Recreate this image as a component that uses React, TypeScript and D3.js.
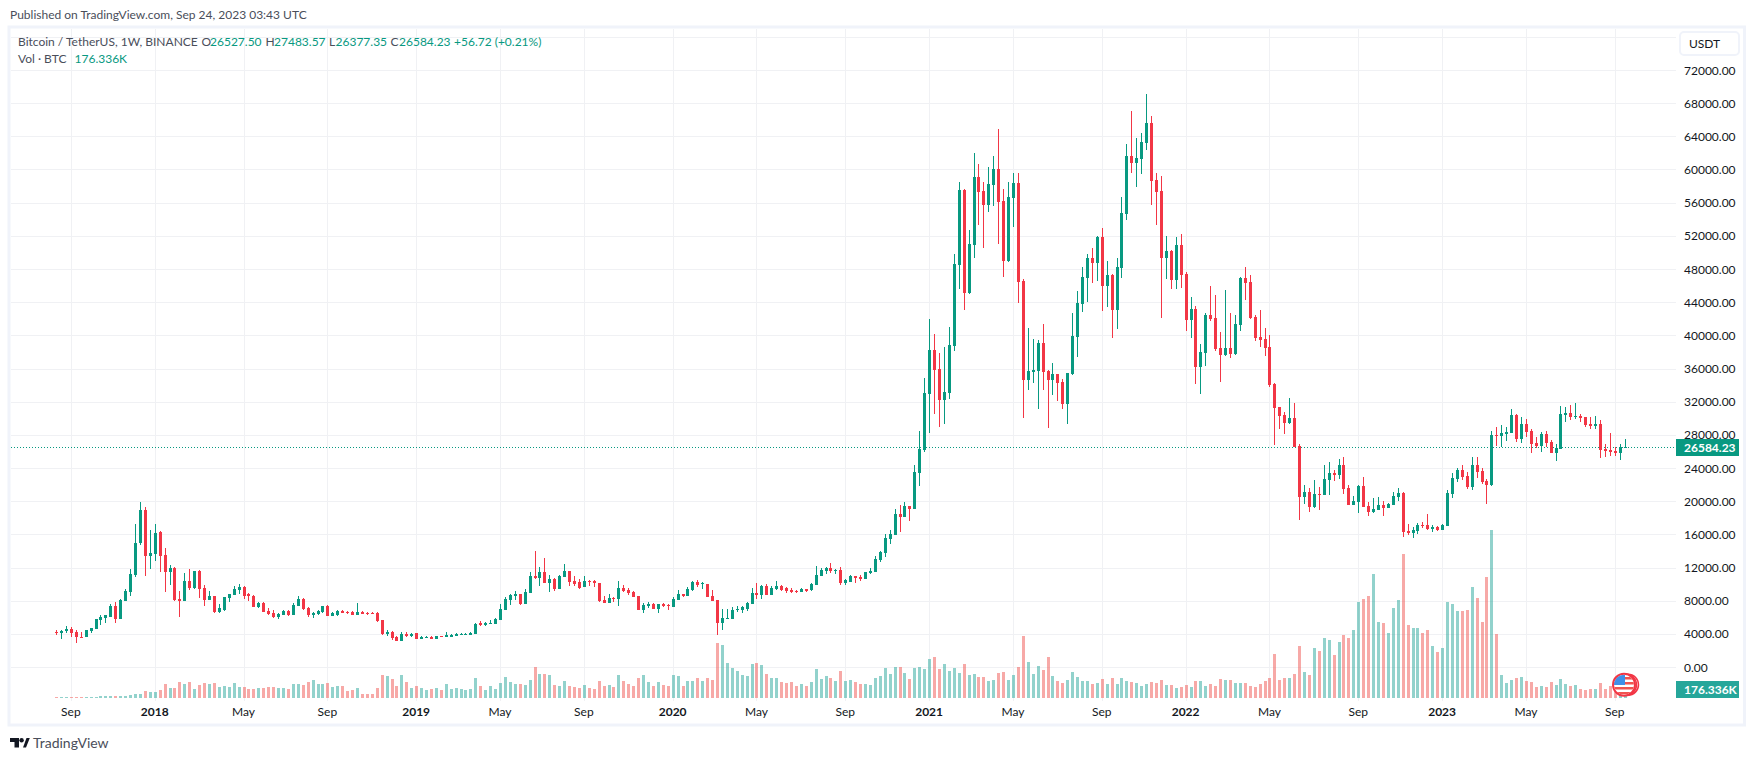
import React from "react";
import * as d3 from "d3";

type Bar = [number, number, number, number];

// weekly [open, high, low, close], Binance BTC/USDT
const ohlc2017: Bar[] = [
  [4261,4485,3850,4086],[4069,4453,3400,4310],[4310,4939,4124,4565],[4565,4820,3660,4150],[4220,4460,2930,3660],
  [3660,4220,3500,3540],[3660,4460,3660,4460],[4300,4740,4140,4700],[4620,5800,4620,5790],[5670,6270,5070,6030],
  [5950,6270,5350,6270],[6070,7560,6070,7360],[7360,7800,5350,5830],[5830,8200,5830,8080],[7960,9370,7920,9130],
  [9090,11780,8600,11180],[11100,17250,10890,14950],[14910,19860,14710,18930],[18930,19260,11010,13390],[13390,16520,11820,13710],
];
const ohlc2018: Bar[] = [
  [13630,17210,12820,16120],[16280,16400,11460,13390],[13470,14350,9050,11500],[11460,12260,9890,11940],[11940,12020,8000,8080],
  [8160,9170,6070,7960],[7960,11300,7960,10370],[10370,11820,9290,9530],[9490,11580,9410,11580],[11580,11700,8320,9410],
  [9530,9890,7400,8080],[8080,9170,8080,8560],[8560,8560,6550,6670],[6670,7600,6550,7080],[6870,8440,6790,8440],
  [8320,8800,7840,8800],[8720,9770,8720,9370],[9290,10010,8800,9650],[9690,9770,8240,8560],[8800,8880,7960,8560],
  [8600,8680,7280,7280],[7200,7840,7120,7760],[7760,7840,6630,6630],[6790,7080,6230,6390],[6470,6870,5870,6030],
  [5990,6470,5830,6390],[6310,6870,6230,6790],[6790,6870,6150,6230],[6310,7720,6310,7480],[7400,8600,7400,8200],
  [8240,8320,6870,7000],[7120,7200,6030,6270],[6310,6630,5950,6550],[6390,6870,6310,6790],[6630,7400,6550,7360],
  [7400,7440,6150,6190],[6190,6630,6150,6550],[6310,6870,6150,6790],[6790,6870,6470,6510],[6670,6750,6390,6510],
  [6670,6750,6230,6310],[6310,7720,6230,6630],[6630,6710,6390,6430],[6550,6630,6310,6390],[6550,6630,6350,6470],
  [6510,6590,5470,5550],[5630,5630,3820,4020],[3940,4420,3780,4220],[4220,4300,3260,3500],[3620,3700,3180,3180],
  [3180,4220,3140,3980],[4020,4220,3660,3700],[3740,4100,3660,3980],
];
const ohlc2019: Bar[] = [
  [4060,4100,3380,3380],[3380,3740,3340,3660],[3540,3740,3500,3660],[3660,3700,3340,3380],[3380,3780,3340,3740],
  [3740,3780,3580,3620],[3660,4220,3620,3820],[3660,3980,3620,3900],[3740,4060,3700,3980],[3860,4100,3820,4020],
  [3860,4060,3820,4020],[3860,4220,3820,4100],[3980,5270,3980,5190],[5270,5510,4940,5070],[5070,5390,4980,5310],
  [5190,5670,5150,5350],[5190,5910,5150,5790],[5670,7600,5670,6990],[6870,8440,6870,8240],[8040,8840,7480,8680],
  [8560,9130,8040,8760],[8800,8800,7480,7560],[7600,9410,7600,9050],[8960,11460,8960,10970],[10930,13990,10570,10690],
  [10770,12020,9770,11460],[11460,13150,10130,10130],[10130,11100,9050,10610],[10610,10730,9170,9370],[9410,11100,9410,11010],
  [10850,12420,10850,11580],[11580,11580,9770,10250],[10370,10970,9770,10050],[10250,10610,9410,9530],[9650,10970,9650,10370],
  [10370,10490,9770,10210],[10370,10450,9650,10090],[10130,10130,7800,7920],[8040,8520,7720,7760],[7760,8800,7720,8320],
  [8360,8440,7840,8240],[8200,10370,7360,9530],[9530,9890,9050,9170],[9330,9530,8680,8880],[9050,9130,8440,8480],
  [8560,8560,6870,6870],[6870,7720,6510,7480],[7360,7840,7120,7600],[7600,7680,6950,7040],[7040,7600,6510,7600],
  [7600,7720,7240,7360],[7480,7600,6870,7320],
];
const ohlc2020: Bar[] = [
  [7240,8440,7240,8200],[8080,9290,8080,8800],[8800,8840,8400,8520],[8560,9650,8560,9410],[9290,10370,9170,10250],
  [10250,10450,9690,9890],[10010,10250,9410,10130],[10010,10010,8440,8440],[8560,9290,7960,7960],[8080,8120,3860,5310],
  [5310,6990,4460,5910],[5830,6990,5790,5910],[5790,7240,5790,6870],[6870,7320,6630,6990],[6910,7360,6510,7200],
  [6990,7840,6750,7720],[7600,9530,7600,8920],[8920,10130,8200,8680],[8680,9890,8200,9770],[9770,10010,8680,8680],
  [8680,9770,8680,9530],[9370,10370,9290,9770],[9770,9890,9170,9290],[9490,9650,8920,9170],[9290,9530,8920,9050],
  [9210,9290,8920,9090],[9090,9570,9050,9450],[9410,9450,9090,9170],[9250,10130,9170,10010],[9890,12180,9890,11100],
  [10970,11940,10970,11700],[11580,12060,11260,11940],[11940,12540,11380,11540],[11660,11820,11220,11740],[11700,12060,9890,10130],
  [10130,10610,9890,10450],[10250,11100,10250,10970],[10970,11020,10130,10690],[10810,11060,10330,10650],[10610,11500,10610,11460],
  [11300,11900,11220,11580],[11460,13420,11460,13030],[12900,14030,12660,13870],[13750,16000,13270,15560],[15440,16470,14830,16000],
  [15920,19050,15920,18450],[18450,19530,16310,18090],[18090,19940,18090,19420],[19420,19420,17630,19050],[19050,24360,19050,23520],
  [23400,28460,21830,26290],[26170,34850,25970,33040],
];
const ohlc2021: Bar[] = [
  [32920,41970,28220,38230],[38230,40160,30510,35820],[35940,37870,28940,32200],[32200,38590,29310,33170],[33040,41000,32320,38830],
  [38710,49810,38110,48600],[48480,58490,45590,57530],[57530,57650,43050,45100],[45100,52700,44980,51010],[50900,61990,49330,59090],
  [59090,60660,53310,57290],[57410,58490,50530,55720],[55720,60300,54870,58250],[58130,61630,55600,60060],[60060,64880,51010,56080],
  [56200,57650,47030,48960],[48960,58490,48840,56680],[56560,59580,53060,58370],[58370,59580,43900,46430],[46550,46790,30030,34610],
  [34610,40880,33410,35700],[35580,39560,34250,35820],[35700,39440,31110,39080],[39080,41370,33410,35580],[35700,35820,28820,34610],
  [34610,36660,32800,35340],[35340,35340,32080,34250],[34370,34730,31110,31720],[31720,35460,29310,35460],[35340,42690,35220,39920],
  [39800,45350,37390,43900],[43780,48240,42810,47030],[46910,49810,44020,49330],[49330,50530,46310,48720],[48720,51980,46550,51860],
  [51860,52940,42930,45950],[45950,48960,43420,47280],[47280,47400,39680,43050],[43050,49330,40760,48240],[48120,56680,46910,54750],
  [54630,63070,53910,61630],[61630,67050,59580,60780],[60780,63800,57890,61390],[61270,64400,59460,63310],[63200,69100,62350,65610],
  [65610,66450,55720,58610],[58730,59580,53310,57290],[57410,59220,42090,49330],[49330,51980,46790,50170],[50170,50290,45590,46670],
  [46670,51860,45590,50890],[50890,52220,45710,47280],
];
const ohlc2022: Bar[] = [
  [47400,47640,40520,41850],[41850,44620,39680,43180],[43180,43540,34130,36180],[36180,38950,32920,37990],[37870,42690,36300,42450],
  [42450,45950,41730,41970],[42090,44860,38110,38350],[38470,40400,34370,37630],[37630,45470,37510,38470],[38470,42690,37270,37750],
  [37750,42450,37630,41370],[41250,47030,40520,46910],[46910,48240,44260,46310],[46430,47280,41970,42090],[42210,42450,39320,39680],
  [39800,43060,38590,39440],[39560,40880,37510,38470],[38590,40040,33770,34010],[34130,34250,26770,31240],[31360,31360,28700,30310],
  [30390,30750,28100,29470],[29430,32440,29310,30030],[30030,31840,26530,26530],[26650,26890,17730,20540],[20500,21950,19660,21110],
  [21110,21590,18690,19300],[19300,22550,19180,20860],[20860,21710,18930,20740],[20740,24360,20740,22670],[22550,24720,20740,23400],
  [23400,23760,22430,23160],[23160,25080,22670,24360],[24360,25330,20860,21470],[21590,21950,19540,19540],[19540,20620,19540,20020],
  [19900,21950,18570,21830],[21830,22910,19300,19300],[19420,19900,18210,18690],[18690,20380,18570,19050],[18930,20500,18930,19540],
  [19540,20020,18210,19180],[19180,19780,19180,19660],[19540,21110,19540,20620],[20500,21590,20020,20980],[20980,21110,15680,16280],
  [16400,17250,15920,16160],[16160,16880,15560,16520],[16400,17370,16080,17130],[17130,17490,16760,17000],[17130,18450,16520,16640],
  [16640,17130,16280,16880],[16880,17000,16400,16520],
];
const ohlc2023: Bar[] = [
  [16520,17250,16520,17130],[17000,21350,17000,20980],[20860,23400,20380,22790],[22670,24000,22310,23760],[23760,24360,22550,22910],
  [23030,23520,21470,21710],[21710,25330,21350,24360],[24360,25330,22790,23520],[23640,24000,22070,22310],[22430,22670,19660,21950],
  [21950,28460,21830,27980],[27980,28940,26650,27900],[27860,29190,26530,28220],[28100,28940,27260,28340],[28220,31110,28220,30390],
  [30390,30510,27140,27500],[27500,30150,27020,29310],[29310,29910,27740,28340],[28460,28700,25810,26890],[27010,27740,26410,26650],
  [26650,28340,25930,28100],[28100,28460,26530,27010],[27140,27380,25810,25810],[25810,26890,24840,26410],[26290,31480,26290,30510],
  [30390,31360,29550,30630],[30630,31600,29790,30150],[30150,31840,29910,30270],[30270,30510,29550,30030],[30150,30150,28940,29190],
  [29310,30150,28700,29060],[29060,30270,28700,29310],[29310,29790,25210,26170],[26290,26890,25330,26050],[26170,28220,25450,25930],
  [26050,26530,25450,25810],[25810,26890,24960,26530],[26527.5,27483.57,26377.35,26584.23],
];

// weekly volume, thousands of BTC
const vol2017 = [50,50,50,50,50,50,50,50,50,110,110,110,110,110,110,160,210,210,370,320];
const vol2018 = [320,420,740,530,530,850,740,850,480,690,800,740,800,580,640,580,800,580,580,480,480,530,530,580,580,530,530,480,740,740,690,850,950,740,740,800,580,640,640,370,420,530,210,210,210,530,1220,1170,1010,640,1220,850,530];
const vol2019 = [640,530,420,480,530,420,740,480,530,480,420,480,1060,640,420,640,480,800,1110,850,740,740,690,950,1640,1270,1270,1220,690,640,900,640,580,530,690,530,480,900,640,690,580,1220,900,740,640,1060,1220,850,640,850,690,640];
const vol2020 = [1220,1170,640,900,900,1060,900,1060,950,2910,2810,1850,1590,1430,1220,1170,1800,1850,1750,1270,1060,1060,850,800,850,640,740,640,850,1540,1010,1170,1060,900,1430,900,950,850,740,740,690,1060,1170,1590,1270,1640,1640,1320,1010,1590,1640,1540];
const vol2021 = [2070,2170,1540,1800,1430,1590,1320,1800,1220,1270,1110,1110,900,950,1320,1380,950,1220,1640,3280,1910,1270,1700,1480,2170,1170,900,800,950,1380,1110,900,900,740,800,1010,740,1060,740,1060,900,850,800,640,740,850,800,950,690,690,530,580];
const vol2022 = [690,580,900,900,640,740,640,1010,950,950,800,800,800,640,580,740,900,1060,2330,950,1060,1060,1270,2750,1380,1220,2650,2490,3180,3070,2280,2970,3340,3180,3600,5090,5250,5400,6570,4030,3970,3440,4770,5190,7630,3870,3710,3710,3440,3600,2750,2440];
const vol2023 = [2650,5090,4980,4610,4610,4660,5880,5300,4030,6410,8900,3390,1220,800,950,1060,1110,900,850,580,640,580,850,690,1010,740,640,690,480,420,480,480,800,480,640,640,370,176.336];

const priceTicks = d3.range(0, 76001, 4000);
const labelledPriceTicks = priceTicks.filter((t) => t <= 72000);
const timeTicks: [number, string, boolean][] = [
  [3,"Sep",false],[20,"2018",true],[38,"May",false],[55,"Sep",false],[73,"2019",true],[90,"May",false],[107,"Sep",false],
  [125,"2020",true],[142,"May",false],[160,"Sep",false],[177,"2021",true],[194,"May",false],[212,"Sep",false],[229,"2022",true],
  [246,"May",false],[264,"Sep",false],[281,"2023",true],[298,"May",false],[316,"Sep",false],
];
const headerValues: [string, number, boolean][] = [
  ["Bitcoin / TetherUS, 1W, BINANCE",18,false],["O",201.5,false],["26527.50",210,true],["H",265.5,false],["27483.57",274,true],
  ["L",329,false],["26377.35",335.5,true],["C",390.5,false],["26584.23",399,true],["+56.72 (+0.21%)",454,true],
];

const GREEN = "#089981", RED = "#f23645";
const FONT = "Lato, 'Open Sans', sans-serif";
const INK = "#131722";
const MUTED = "#4a4e5a";
const GRID = "#f0f1f4";

export default function App() {
  const candles = [...ohlc2017, ...ohlc2018, ...ohlc2019, ...ohlc2020, ...ohlc2021, ...ohlc2022, ...ohlc2023];
  const volumes = [...vol2017, ...vol2018, ...vol2019, ...vol2020, ...vol2021, ...vol2022, ...vol2023];
  const x = d3.scaleLinear().domain([0, 318]).range([56.1, 1624.6]);
  const y = d3.scaleLinear().domain([0, 72000]).range([667, 70]);
  const yVol = d3.scaleLinear().domain([0, 8900]).range([698, 530]);
  const last = candles[candles.length - 1][3];
  const lastY = Math.round(y(last)) + 0.5;

  return (
    <svg width={1754} height={761} style={{ position: "absolute", left: 0, top: 0, background: "#fff", fontFamily: FONT }}>
      <defs>
        <clipPath id="flag"><circle cx={1624} cy={684.7} r={10} /></clipPath>
      </defs>
      <text x={10} y={19} fontSize={12} fill={MUTED}>Published on TradingView.com, Sep 24, 2023 03:43 UTC</text>
      <rect x={9} y={27} width={1735.5} height={698} fill="#fff" stroke="#f0f3fa" strokeWidth={3} />

      <g shapeRendering="crispEdges" stroke={GRID} strokeWidth={1}>
        {priceTicks.map((t) => (
          <line key={t} x1={11} x2={1676} y1={Math.round(y(t)) + 0.5} y2={Math.round(y(t)) + 0.5} />
        ))}
        {timeTicks.map(([i]) => (
          <line key={i} x1={Math.round(x(i)) + 0.5} x2={Math.round(x(i)) + 0.5} y1={29} y2={701} />
        ))}
      </g>

      <g shapeRendering="crispEdges">
        {volumes.map((v, i) => {
          const up = candles[i][3] >= candles[i][0];
          const top = yVol(v);
          return (
            <rect key={i} x={Math.round(x(i)) - 1} y={top} width={3} height={698 - top}
              fill={up ? "#26a69a" : "#ef5350"} fillOpacity={0.5} />
          );
        })}
      </g>

      <line x1={11} x2={1676} y1={lastY} y2={lastY} stroke={GREEN} strokeWidth={1} strokeDasharray="1 2" />

      <g shapeRendering="crispEdges">
        {candles.map(([o, h, l, c], i) => {
          const up = c >= o;
          const color = up ? GREEN : RED;
          const px = Math.round(x(i));
          const top = Math.round(y(Math.max(o, c)));
          const bottom = Math.round(y(Math.min(o, c)));
          return (
            <g key={i} fill={color}>
              <rect x={px} y={y(h)} width={1} height={y(l) - y(h)} />
              <rect x={px - 1} y={top} width={3} height={Math.max(1, bottom - top)} />
            </g>
          );
        })}
      </g>

      <g fontSize={12}>
        {headerValues.map(([s, px, val]) => (
          <text key={s} x={px} y={46} fill={val ? GREEN : MUTED}>{s}</text>
        ))}
        <text x={18} y={63} fill={MUTED}>Vol · BTC</text>
        <text x={74.5} y={63} fill={GREEN}>176.336K</text>
      </g>

      <g fontSize={12} fill={INK}>
        {labelledPriceTicks.map((t) => (
          <text key={t} x={1684} y={y(t)} dominantBaseline="central">{d3.format(".2f")(t)}</text>
        ))}
      </g>
      {timeTicks.map(([i, s, bold]) => (
        <text key={i} x={x(i)} y={716} textAnchor="middle" fontSize={12} fontWeight={bold ? 700 : 400} fill={INK}>{s}</text>
      ))}

      <rect x={1680} y={32} width={59} height={23} rx={4} fill="#fff" stroke="#f0f3fa" strokeWidth={2} />
      <text x={1689} y={48} fontSize={12} fill={INK}>USDT</text>

      <rect x={1676} y={lastY - 8.5} width={63} height={17} fill={GREEN} />
      <text x={1684} y={lastY} fontSize={12} fontWeight={700} fill="#fff" dominantBaseline="central">26584.23</text>
      <rect x={1676} y={681} width={63} height={17} fill="#26a69a" />
      <text x={1684} y={689.5} fontSize={12} fontWeight={700} fill="#fff" dominantBaseline="central">176.336K</text>

      <g>
        <circle cx={1628} cy={684.7} r={10.5} fill="#fff" stroke={RED} strokeWidth={1.5} />
        <circle cx={1626} cy={684.7} r={10.5} fill="#fff" stroke={RED} strokeWidth={1.5} />
        <circle cx={1624} cy={684.7} r={11} fill="#fff" stroke={RED} strokeWidth={2} />
        <g clipPath="url(#flag)">
          {[0, 1, 2, 3].map((k) => (
            <rect key={k} x={1614} y={677 + k * 5} width={20} height={2.5} fill="#f0534f" />
          ))}
          <rect x={1614} y={675} width={11} height={10} fill="#3f8fe8" />
        </g>
      </g>

      <g fill={INK}>
        <path d="M10 738H19V747.5H14.5V742H10Z" />
        <circle cx={21.6} cy={740.2} r={2.2} />
        <path d="M23 747.5L26.5 738H29.8L26 747.5Z" />
      </g>
      <text x={33} y={748} fontSize={14} fill={MUTED}>TradingView</text>
    </svg>
  );
}
